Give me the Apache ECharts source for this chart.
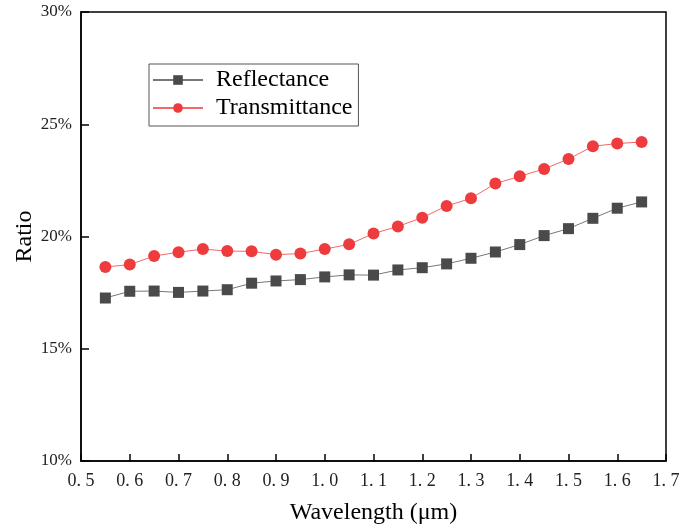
<!DOCTYPE html>
<html><head><meta charset="utf-8">
<script src="https://cdn.jsdelivr.net/npm/echarts@6/dist/echarts.min.js"></script>
<style>html,body{margin:0;padding:0;background:#fff}#c{width:688px;height:529px}</style>
</head><body><div id="c"></div>
<script>
const wavelengths = [0.55,0.60,0.65,0.70,0.75,0.80,0.85,0.90,0.95,1.00,1.05,1.10,1.15,1.20,1.25,1.30,1.35,1.40,1.45,1.50,1.55,1.60,1.65];
const reflectance = [17.26,17.56,17.57,17.51,17.57,17.63,17.92,18.02,18.08,18.20,18.29,18.28,18.51,18.61,18.78,19.03,19.31,19.64,20.04,20.35,20.81,21.26,21.54];
const transmittance = [18.64,18.75,19.13,19.30,19.44,19.35,19.34,19.19,19.24,19.44,19.65,20.13,20.45,20.84,21.36,21.70,22.36,22.68,23.01,23.45,24.02,24.14,24.21];
const xTicks = ['0. 5','0. 6','0. 7','0. 8','0. 9','1. 0','1. 1','1. 2','1. 3','1. 4','1. 5','1. 6','1. 7'];
const yTicks = ['10%','15%','20%','25%','30%'];

const font = '"Liberation Serif", "Times New Roman", serif';
const chart = echarts.init(document.getElementById('c'));
chart.setOption({
  animation: false,
  grid: {left: 81, right: 22, top: 12, bottom: 68, show: true, borderColor: '#000', borderWidth: 1.5,
         backgroundColor: 'transparent', outerBoundsMode: 'none', containLabel: false},
  legend: {
    left: 149, top: 64, orient: 'vertical',
    borderColor: '#555', borderWidth: 1, padding: [4, 6, 6, 3],
    itemWidth: 50, itemHeight: 12, itemGap: 4,
    textStyle: {fontFamily: font, fontSize: 24, lineHeight: 24, color: '#000', padding: [0,0,0,8]},
    data: ['Reflectance', 'Transmittance']
  },
  xAxis: {
    type: 'value', min: 0.5, max: 1.7, interval: 0.1,
    name: 'Wavelength (μm)', nameLocation: 'middle', nameGap: 40, nameMoveOverlap: false,
    nameTextStyle: {fontFamily: font, fontSize: 24, color: '#000'},
    axisLine: {lineStyle: {color: '#000', width: 1.5}},
    axisTick: {inside: true, length: 7, lineStyle: {color: '#000', width: 1.5}},
    axisLabel: {fontFamily: font, fontSize: 18, color: '#222', margin: 11,
      formatter: function (v) { return xTicks[Math.round((v - 0.5) * 10)]; }},
    splitLine: {show: false}
  },
  yAxis: {
    type: 'value', min: 10, max: 30, interval: 5,
    name: 'Ratio', nameLocation: 'middle', nameGap: 44, nameMoveOverlap: false,
    nameTextStyle: {fontFamily: font, fontSize: 24, color: '#000'},
    axisLine: {lineStyle: {color: '#000', width: 1.5}},
    axisTick: {inside: true, length: 8, lineStyle: {color: '#000', width: 1.5}},
    axisLabel: {fontFamily: font, fontSize: 17, color: '#222', margin: 9,
      formatter: function (v) { return yTicks[Math.round((v - 10) / 5)]; }},
    splitLine: {show: false}
  },
  series: [
    {
      name: 'Reflectance', type: 'line',
      data: wavelengths.map((w, i) => [w, reflectance[i]]),
      symbol: 'rect', symbolSize: 11,
      itemStyle: {color: '#4a4a4a'},
      lineStyle: {color: '#777', width: 1}
    },
    {
      name: 'Transmittance', type: 'line',
      data: wavelengths.map((w, i) => [w, transmittance[i]]),
      symbol: 'circle', symbolSize: 12,
      itemStyle: {color: '#ee3b3e'},
      lineStyle: {color: '#f26868', width: 1}
    }
  ]
});
</script></body></html>
